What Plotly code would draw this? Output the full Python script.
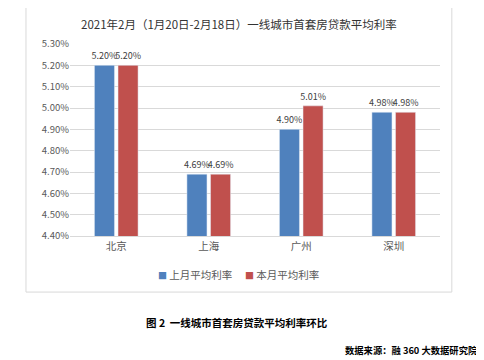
import plotly.graph_objects as go

cities = ["北京", "上海", "广州", "深圳"]
last_month = [0.0520, 0.0469, 0.0490, 0.0498]
this_month = [0.0520, 0.0469, 0.0501, 0.0498]
series_names = ["上月平均利率", "本月平均利率"]
series_colors = ["#4F81BD", "#C0504D"]
tick_vals = [0.044, 0.045, 0.046, 0.047, 0.048, 0.049, 0.050, 0.051, 0.052, 0.053]

FONT = "Noto Sans CJK SC"
label_font = dict(family=FONT, size=9, color="#404040")

fig = go.Figure()
for name, vals, col in zip(series_names, [last_month, this_month], series_colors):
    fig.add_trace(go.Bar(x=cities, y=vals, name=name, marker_color=col,
                         texttemplate="%{y:.2%}", textposition="outside", textfont=label_font,
                         constraintext="none", cliponaxis=False))

legend_x = [0.232, 0.467]
legend_ann = [
    dict(text=f"<span style='color:{col};font-size:9px'>■</span> {name}", xref="paper", yref="paper",
         x=lx, y=-0.198, xanchor="left", yanchor="middle", showarrow=False,
         font=dict(family=FONT, size=10.5, color="#595959"))
    for name, col, lx in zip(series_names, series_colors, legend_x)
]

fig.update_layout(
    width=476, height=352,
    margin=dict(l=62, r=44, t=36, b=124, autoexpand=False),
    paper_bgcolor="white", plot_bgcolor="white",
    barmode="group", bargap=0.49, bargroupgap=0.15,
    font=dict(family=FONT, color="#595959"),
    showlegend=False,
    xaxis=dict(showgrid=False, showline=True, linecolor="#D9D9D9", ticks="",
               tickfont=dict(family=FONT, size=10.5, color="#595959")),
    yaxis=dict(range=[0.044, 0.053], tickvals=tick_vals, tickformat=".2%",
               showgrid=True, gridcolor="#D9D9D9", zeroline=False, showline=False,
               ticks="", ticklen=0,
               tickfont=dict(family=FONT, size=9.5, color="#595959")),
    shapes=[dict(type="rect", xref="paper", yref="paper", x0=-0.119, x1=1.032,
                 y0=-0.292, y1=1.208, line=dict(color="#D9D9D9", width=1),
                 fillcolor="rgba(0,0,0,0)", layer="below")],
    annotations=[
        dict(text="2021年2月（1月20日-2月18日）一线城市首套房贷款平均利率", xref="paper", yref="paper",
             x=0.457, y=1.104, xanchor="center", yanchor="middle", showarrow=False,
             font=dict(family=FONT, size=11.5, color="#333333")),
        dict(text="<b>图 2  一线城市首套房贷款平均利率环比</b>", xref="paper", yref="paper",
             x=0.451, y=-0.448, xanchor="center", yanchor="middle", showarrow=False,
             font=dict(family=FONT, size=10.5, color="#000000")),
        dict(text="<b>数据来源：融 360 大数据研究院</b>", xref="paper", yref="paper",
             x=1.108, y=-0.594, xanchor="right", yanchor="middle", showarrow=False,
             font=dict(family=FONT, size=9.3, color="#000000")),
    ] + legend_ann,
)

fig.write_html("out.html")
